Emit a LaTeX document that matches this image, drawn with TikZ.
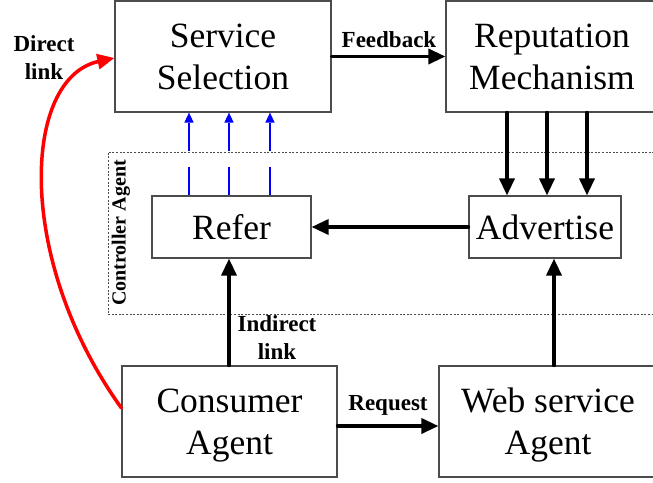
\documentclass[tikz,border=0pt]{standalone}
\usepackage{fontspec}
\setmainfont{Liberation Serif}
\usetikzlibrary{arrows.meta}
\definecolor{boxgray}{gray}{0.3}
\definecolor{pureblue}{RGB}{0,0,255}
\definecolor{purered}{RGB}{255,0,0}
\tikzset{
  box/.style={draw=boxgray, line width=1.2pt, inner sep=0pt, align=center,
    font=\fontsize{35.5}{42}\selectfont},
  lbl/.style={align=center, inner sep=0pt, font=\bfseries\fontsize{23}{28}\selectfont},
  arr/.style={line width=3.5pt, line cap=round, -{Triangle[length=17pt,width=15pt]}},
  bluearr/.style={line width=1.5pt, draw=pureblue, dash pattern=on 28pt off 16pt,
    -{Triangle[length=10pt,width=9pt]}},
  redarr/.style={line width=3.5pt, draw=purered, line cap=round,
    -{Triangle[length=17pt,width=15pt]}},
  ctrlbox/.style={draw=boxgray, line width=0.8pt, dash pattern=on 2pt off 1.6pt}
}
\begin{document}
\begin{tikzpicture}[x=1pt,y=-1pt]
\useasboundingbox (0,0) rectangle (653,482);
% controller agent dashed region
\node[ctrlbox, minimum width=590pt, minimum height=162pt] (ctrl) at (403,233) {};
\node[rotate=90, inner sep=0pt, font=\bfseries\fontsize{20}{22}\selectfont] (ctrllbl) at (121,233) {Controller Agent};
% boxes
\node[box, minimum width=216pt, minimum height=111pt] (ss) at (223,56.5) {Service\\Selection};
\node[box, minimum width=212pt, minimum height=111pt] (rep) at (552,56.5) {Reputation\\Mechanism};
\node[box, minimum width=159pt, minimum height=62pt] (refer) at (231.5,227) {Refer};
\node[box, minimum width=152pt, minimum height=62pt] (adv) at (545,227) {Advertise};
\node[box, minimum width=215pt, minimum height=111pt] (cons) at (229.5,421.5) {Consumer\\\smash{Agent}};
\node[box, minimum width=218pt, minimum height=111pt] (web) at (548,421.5) {Web service\\\smash{Agent}};
% labels
\node[lbl, anchor=base] (fb) at (389,47) {Feedback};
\node[lbl, anchor=base] (rq) at (388,410) {Request};
\node[lbl] (dl) at (44,58) {Direct\\link};
\node[lbl] (il) at (277,338) {Indirect\\link};
% connectors
\draw[arr] (ss.east) -- (rep.west);
\foreach \xx in {507,547,587}{
  \draw[arr] (rep.south -| \xx,0) -- (adv.north -| \xx,0);
}
\foreach \xx in {189,229,270}{
  \draw[bluearr] (refer.north -| \xx,0) -- (ss.south -| \xx,0);
}
\draw[arr] (adv.west) -- (refer.east);
\draw[arr] (cons.north -| 229,0) -- (refer.south -| 229,0);
\draw[arr] (web.north -| 554,0) -- (adv.south -| 554,0);
\draw[arr] (cons.east |- 0,426) -- (web.west |- 0,426);
\draw[redarr] (cons.west |- 0,408) .. controls (15,260) and (22,78) .. (ss.west |- 0,58);
\end{tikzpicture}
\end{document}
